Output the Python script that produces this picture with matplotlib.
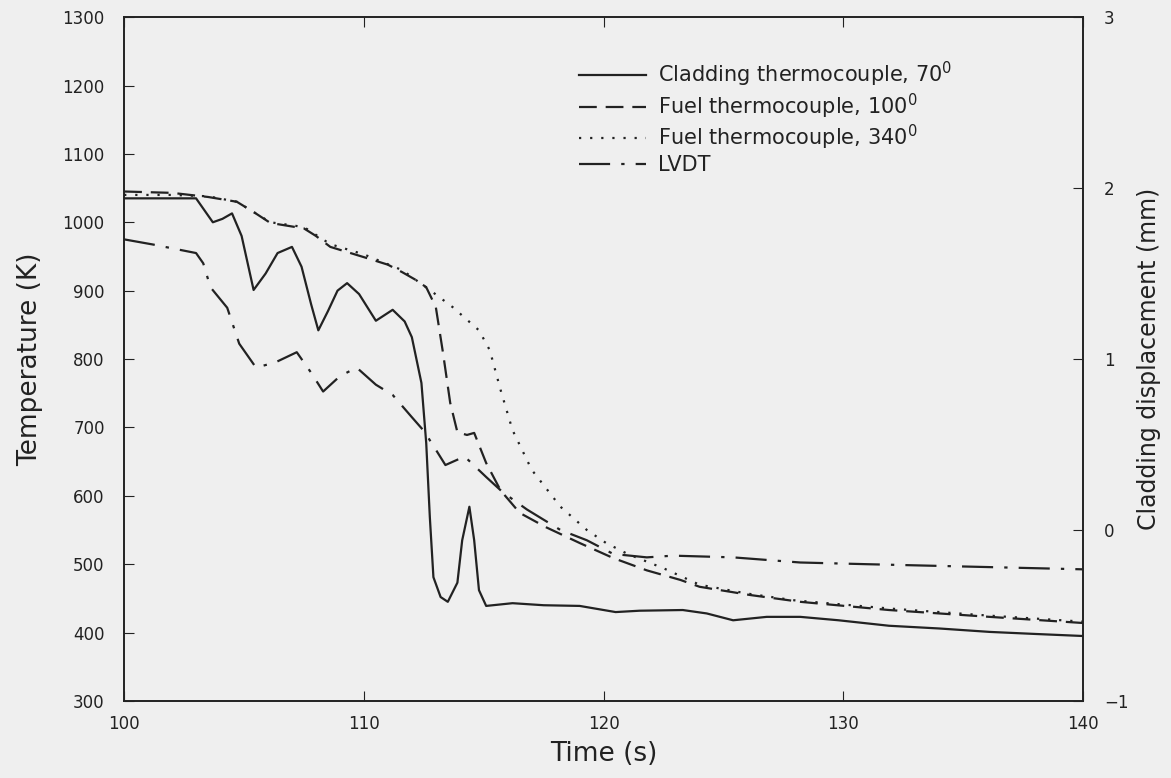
import numpy as np
import matplotlib.pyplot as plt

# Cladding thermocouple, 70 deg (K)
t_clad = [100, 101, 102, 103.0, 103.4, 103.7, 104.1, 104.5, 104.9, 105.4, 105.9, 106.4,
          107.0, 107.4, 107.8, 108.1, 108.5, 108.9, 109.3, 109.8, 110.5, 111.2, 111.7,
          112.0, 112.4, 112.6, 112.75, 112.9, 113.2, 113.5, 113.9, 114.1, 114.4, 114.6,
          114.8, 115.1, 116.2, 117.5, 119.0, 120.5, 121.5, 123.3, 124.3, 125.4, 126.8,
          128.2, 129.8, 131.9, 134, 136.1, 138, 140]
T_clad = [1035, 1035, 1035, 1035, 1015, 1000, 1005, 1013, 980, 901, 925, 955,
          964, 935, 880, 842, 870, 900, 911, 895, 856, 872, 855,
          832, 765, 677, 569, 481, 452, 445, 473, 535, 584, 535,
          462, 439, 443, 440, 439, 430, 432, 433, 428, 418, 423,
          423, 418, 410, 406, 401, 398, 395]

# Fuel thermocouple, 100 deg (K)
t_f100 = [100, 102, 103.5, 104.7, 105.4, 106.1, 107.5, 108.0, 108.6, 110.0, 111.0, 111.6,
          112.2, 112.6, 113.0, 113.3, 113.6, 113.9, 114.3, 114.6, 115.1, 115.7, 116.5,
          117.6, 119.0, 120.4, 121.8, 123.2, 124.0, 126.1, 128.2, 131.9, 136.1, 140]
T_f100 = [1045, 1043, 1037, 1030, 1015, 999, 991, 980, 964, 949, 938, 927,
          915, 905, 876, 809, 736, 693, 689, 692, 648, 608, 575,
          554, 531, 509, 491, 477, 467, 455, 445, 433, 423, 414]

# Fuel thermocouple, 340 deg (K)
t_f340 = [100, 102, 103.5, 104.7, 106.1, 107.5, 108.6, 110.0, 111.6, 112.75, 113.7, 114.8,
          115.25, 115.7, 116.2, 117.0, 118.2, 119.3, 120.1, 121.0, 122.5, 124.0, 126.0,
          128.0, 132, 136, 140]
T_f340 = [1040, 1040, 1038, 1030, 1000, 993, 968, 953, 930, 901, 876, 842,
          813, 755, 696, 638, 584, 550, 531, 515, 494, 470, 457,
          447, 435, 425, 416]

# LVDT cladding displacement (mm)
t_lvdt = [100, 101.2, 103.0, 103.3, 103.6, 104.3, 104.8, 105.5, 106.3, 107.2, 107.8, 108.3,
          109.0, 109.7, 110.5, 111.2, 112.0, 112.5, 113.0, 113.4, 114.2, 115.1, 115.8,
          116.8, 118.2, 119.3, 120.4, 121.8, 122.9, 125.4, 128.2, 131, 134, 137, 140]
d_lvdt = [1.70, 1.67, 1.62, 1.56, 1.42, 1.30, 1.09, 0.95, 0.98, 1.04, 0.92, 0.81,
          0.90, 0.95, 0.85, 0.79, 0.66, 0.58, 0.47, 0.38, 0.43, 0.31, 0.22,
          0.12, 0.00, -0.06, -0.14, -0.16, -0.15, -0.16, -0.19, -0.20, -0.21, -0.22, -0.23]

bg = '#efefef'
ink = '#222222'

fig = plt.figure(figsize=(11.71, 7.78), dpi=100, facecolor=bg)
ax = fig.add_axes([0.106, 0.099, 0.819, 0.879], facecolor=bg)
ax2 = ax.twinx()

l1, = ax.plot(t_clad, T_clad, '-', color=ink, lw=1.6)
l2, = ax.plot(t_f100, T_f100, color=ink, lw=1.6, dashes=(8, 4))
l3, = ax.plot(t_f340, T_f340, color=ink, lw=1.6, dashes=(1, 4))
l4, = ax2.plot(t_lvdt, d_lvdt, color=ink, lw=1.6, dashes=(14, 5, 1.5, 5))

ax.set_xlim(100, 140)
ax.set_ylim(300, 1300)
ax2.set_ylim(-1, 3)
ax.set_xticks([100, 110, 120, 130, 140])
ax.set_yticks(np.arange(300, 1301, 100))
ax2.set_yticks([-1, 0, 1, 2, 3])
ax2.set_yticklabels(['\u22121', '0', '1', '2', '3'])

ax.tick_params(axis='x', direction='in', length=7, pad=10, labelsize=12, colors=ink, top=True)
ax.tick_params(axis='y', direction='in', length=7, pad=14, labelsize=12, colors=ink)
ax2.tick_params(axis='y', direction='in', length=7, pad=15, labelsize=12, colors=ink)
for a in (ax, ax2):
    for s in a.spines.values():
        s.set_color(ink)
        s.set_linewidth(1.2)

ax.set_xlabel('Time (s)', fontsize=19, color=ink, labelpad=6)
ax.set_ylabel('Temperature (K)', fontsize=19, color=ink, labelpad=14)
ax2.set_ylabel('Cladding displacement (mm)', fontsize=17, color=ink, labelpad=6)

leg = ax2.legend([l1, l2, l3, l4],
                 ['Cladding thermocouple, 70$^0$', 'Fuel thermocouple, 100$^0$',
                  'Fuel thermocouple, 340$^0$', 'LVDT'],
                 loc='upper left', bbox_to_anchor=(0.455, 0.965), frameon=False,
                 fontsize=15, handlelength=3.2, labelspacing=0.12, handletextpad=0.6)
for txt in leg.get_texts():
    txt.set_color(ink)

fig.savefig('out.png', dpi=100, facecolor=bg)
